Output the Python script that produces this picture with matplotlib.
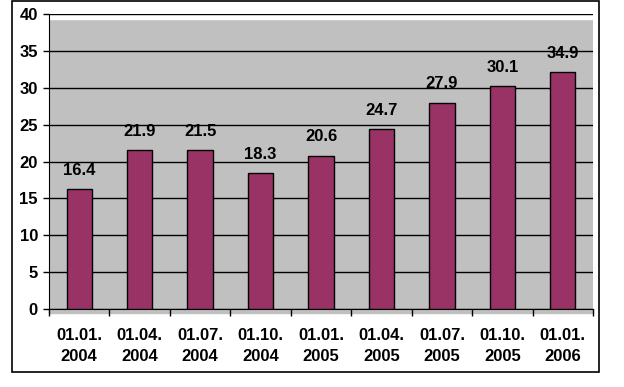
import matplotlib.pyplot as plt
from matplotlib.patches import Rectangle

# --- data ---
dates = ['01.01.\n2004', '01.04.\n2004', '01.07.\n2004', '01.10.\n2004', '01.01.\n2005',
         '01.04.\n2005', '01.07.\n2005', '01.10.\n2005', '01.01.\n2006']
bar_values = [16.3, 21.6, 21.5, 18.4, 20.8, 24.4, 28.0, 30.2, 32.1]
value_labels = ['16.4', '21.9', '21.5', '18.3', '20.6', '24.7', '27.9', '30.1', '34.9']
y_ticks = [0, 5, 10, 15, 20, 25, 30, 35, 40]

plt.rcParams['font.family'] = ['Liberation Sans', 'DejaVu Sans']
plt.rcParams['font.weight'] = 'bold'

fig = plt.figure(figsize=(6.24, 3.87), dpi=100)
ax = fig.add_axes([49 / 624, 1 - 309 / 387, (593 - 49) / 624, (309 - 14) / 387])

# outer frame of the chart area
fig.patches.append(Rectangle((12 / 624, 1 - 372 / 387), (599 - 12) / 624, (372 - 1) / 387,
                             transform=fig.transFigure, fill=False, edgecolor='black', lw=1.2))

gray = '#C0C0C0'
ax.set_facecolor(gray)
# thin white strip under the top gridline and gray band under the axis, like the original
ax.axhspan(39.32, 40, color='white', zorder=0)
ax.add_patch(Rectangle((-0.5, -0.55), len(dates), 0.55, color=gray, clip_on=False, zorder=0))

x = range(len(dates))
bars = ax.bar(x, bar_values, width=0.42, color='#993366', edgecolor='black', linewidth=1, zorder=3)

for b, lab in zip(bars, value_labels):
    ax.annotate(lab, (b.get_x() + b.get_width() / 2, b.get_height()),
                xytext=(0, 8), textcoords='offset points', ha='center', va='bottom',
                fontsize=12, fontweight='bold')

ax.set_ylim(0, 40)
ax.set_xlim(-0.5, len(dates) - 0.5)
ax.set_yticks(y_ticks)
ax.set_yticklabels([str(t) for t in y_ticks], fontsize=12, fontweight='bold')
ax.yaxis.grid(True, color='black', linewidth=1, zorder=1)
ax.set_axisbelow(True)

# category labels at centres, tick marks at boundaries
ax.set_xticks(list(x))
ax.set_xticklabels(dates, fontsize=12, fontweight='bold', linespacing=1.45)
ax.tick_params(axis='x', length=0, pad=14)
ax.set_xticks([i - 0.5 for i in range(len(dates) + 1)], minor=True)
ax.tick_params(axis='x', which='minor', length=5, width=1, direction='out')
ax.tick_params(axis='y', length=4, width=1, pad=4)

for side in ['top', 'right']:
    ax.spines[side].set_visible(False)
ax.spines['left'].set_color('black')
ax.spines['bottom'].set_color('black')

fig.savefig('out.png', dpi=100)
